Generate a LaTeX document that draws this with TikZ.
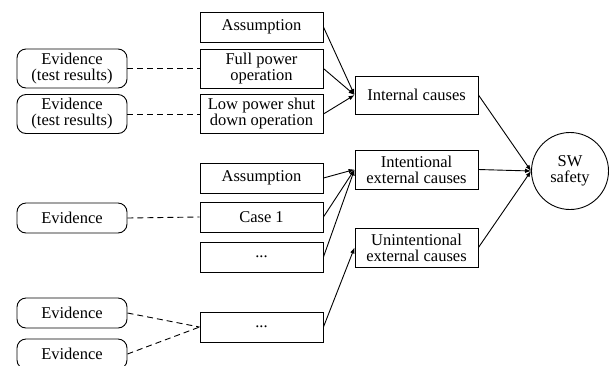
\documentclass[tikz,border=0pt]{standalone}
\usepackage{fontspec}
\setmainfont{Liberation Serif}
\usetikzlibrary{arrows.meta,positioning}

\begin{document}
\begin{tikzpicture}[
  x=1pt, y=-1pt,
  font=\fontsize{16.5}{16}\selectfont,
  line width=0.9pt,
  box/.style={draw, align=center, inner sep=0pt, minimum width=123pt, minimum height=30pt},
  tallbox/.style={box, minimum height=39pt},
  evid/.style={draw, rounded corners=9pt, align=center, inner sep=0pt, minimum width=110pt, minimum height=30pt},
  tallevid/.style={evid, minimum height=39pt},
  goal/.style={draw, circle, align=center, inner sep=0pt, minimum size=77pt},
  arr/.style={-{Latex[length=6pt,width=4.5pt]}},
  dashline/.style={dash pattern=on 6pt off 4pt}
]
\useasboundingbox (0,0) rectangle (609,365);
% middle column
\node[box] (as1) at (261.5,27) {Assumption};
\node[tallbox] (full) at (261.5,68.5) {Full power\\operation};
\node[tallbox] (low) at (261.5,114) {Low power shut\\down operation};
\node[box] (as2) at (261.5,178) {Assumption};
\node[box] (case1) at (261.5,217) {Case 1};
\node[box] (dots1) at (261.5,257) {...};
\node[box] (dots2) at (261.5,327) {...};
% evidence
\node[tallevid] (ev1) at (72,68.5) {Evidence\\(test results)};
\node[tallevid] (ev2) at (72,114) {Evidence\\(test results)};
\node[evid] (ev3) at (72,218) {Evidence};
\node[evid] (ev4) at (72,313) {Evidence};
\node[evid] (ev5) at (72,354) {Evidence};
% causes
\node[tallbox, minimum height=38pt] (intc) at (416.5,95) {Internal causes};
\node[tallbox] (intext) at (416.5,169.5) {Intentional\\external causes};
\node[tallbox] (unext) at (416.5,247.5) {Unintentional\\external causes};
\node[goal] (sw) at (570,171) {SW\\safety};

\draw[dashline] (ev1.east) -- (full.west);
\draw[dashline] (ev2.east) -- (low.west);
\draw[dashline] (ev3.east) -- (case1.west);
\draw[dashline] (ev4.east) -- (dots2.west);
\draw[dashline] (ev5.east) -- (dots2.west);

\draw[arr] (as1.east) -- (intc.west);
\draw[arr] (full.east) -- (intc.west);
\draw[arr] (low.east) -- (intc.west);
\draw[arr] (as2.east) -- (intext.west);
\draw[arr] (case1.east) -- (intext.west);
\draw[arr] (dots1.east) -- (intext.west);
\draw[arr] (dots2.east) -- (unext.west);
\draw[arr] (intc.east) -- (sw.west);
\draw[arr] (intext.east) -- (sw.west);
\draw[arr] (unext.east) -- (sw.west);
\end{tikzpicture}
\end{document}
